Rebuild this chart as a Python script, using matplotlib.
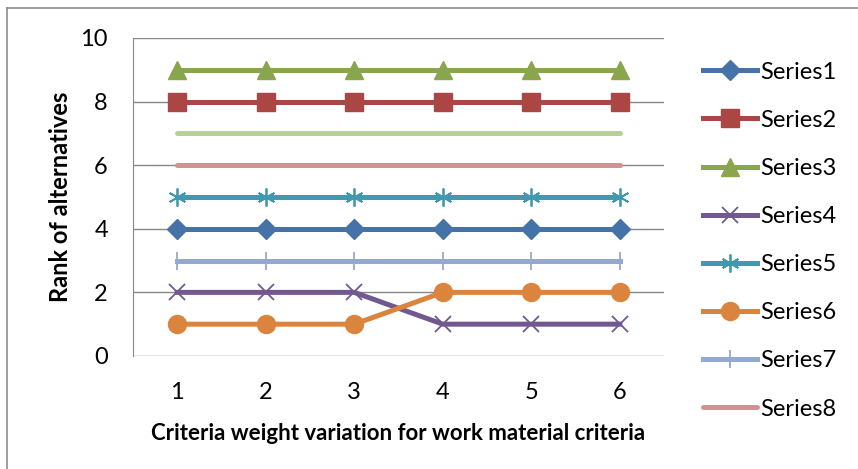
import matplotlib.pyplot as plt
from matplotlib.lines import Line2D

plt.rcParams['font.family'] = ['Lato', 'DejaVu Sans']

x = [1, 2, 3, 4, 5, 6]
series1 = [4, 4, 4, 4, 4, 4]
series2 = [8, 8, 8, 8, 8, 8]
series3 = [9, 9, 9, 9, 9, 9]
series4 = [2, 2, 2, 1, 1, 1]
series5 = [5, 5, 5, 5, 5, 5]
series6 = [1, 1, 1, 2, 2, 2]
series7 = [3, 3, 3, 3, 3, 3]
series8 = [6, 6, 6, 6, 6, 6]
series9 = [7, 7, 7, 7, 7, 7]

fig = plt.figure(figsize=(8.58, 4.69), dpi=100)
ax = fig.add_axes([0.155, 0.241, 0.619, 0.678])

# chart frame (only left and top edges fall inside the image)
frame_kw = dict(transform=fig.transFigure, color='#8c8c8c', linewidth=1.2)
fig.lines.append(Line2D([0.0085, 0.0085], [0.0, 0.983], **frame_kw))
fig.lines.append(Line2D([0.0085, 1.0], [0.983, 0.983], **frame_kw))

lw = 3.6
ax.plot(x, series9, color='#bacf96', lw=lw, solid_capstyle='round', zorder=3)
ax.plot(x, series1, color='#4572a7', lw=lw, marker='D', ms=10, label='Series1', zorder=3)
ax.plot(x, series2, color='#aa4643', lw=lw, marker='s', ms=12.5, label='Series2', zorder=3)
ax.plot(x, series3, color='#89a54e', lw=lw, marker='^', ms=13, label='Series3', zorder=3)
ax.plot(x, series4, color='#71588f', lw=lw, marker='x', ms=11, mew=1.3, label='Series4', zorder=3)
ax.plot(x, series5, color='#4198af', lw=lw, marker=(6, 2, 0), ms=13, mew=1.3, label='Series5', zorder=3)
ax.plot(x, series6, color='#db843d', lw=lw, marker='o', ms=13, label='Series6', zorder=3)
ax.plot(x, series7, color='#93a9cf', lw=lw, marker='|', ms=13, mew=1.3, label='Series7', zorder=3)
ax.plot(x, series8, color='#d19392', lw=lw, solid_capstyle='round', label='Series8', zorder=3)

ax.set_xlim(0.5, 6.5)
ax.set_ylim(0, 10)
ax.set_xticks(x)
ax.set_yticks([0, 2, 4, 6, 8, 10])
ax.yaxis.grid(True, color='#878787', linewidth=1.0)
ax.set_axisbelow(True)
for side in ['top', 'right', 'bottom']:
    ax.spines[side].set_visible(False)
ax.spines['left'].set_color('#878787')
ax.tick_params(axis='x', length=0, labelsize=17, pad=19)
ax.tick_params(axis='y', length=0, labelsize=17, pad=18)

ax.set_xlabel('Criteria weight variation for work material criteria',
              fontsize=16, fontweight='bold', labelpad=14)
ax.set_ylabel('Rank of alternatives', fontsize=17, fontweight='bold', labelpad=6)

fig.legend(loc='upper left', bbox_to_anchor=(0.808, 0.889), frameon=False,
           fontsize=17, handlelength=2.3, handletextpad=0.12, labelspacing=1.15,
           borderaxespad=0)

fig.savefig('out.png', dpi=100)
